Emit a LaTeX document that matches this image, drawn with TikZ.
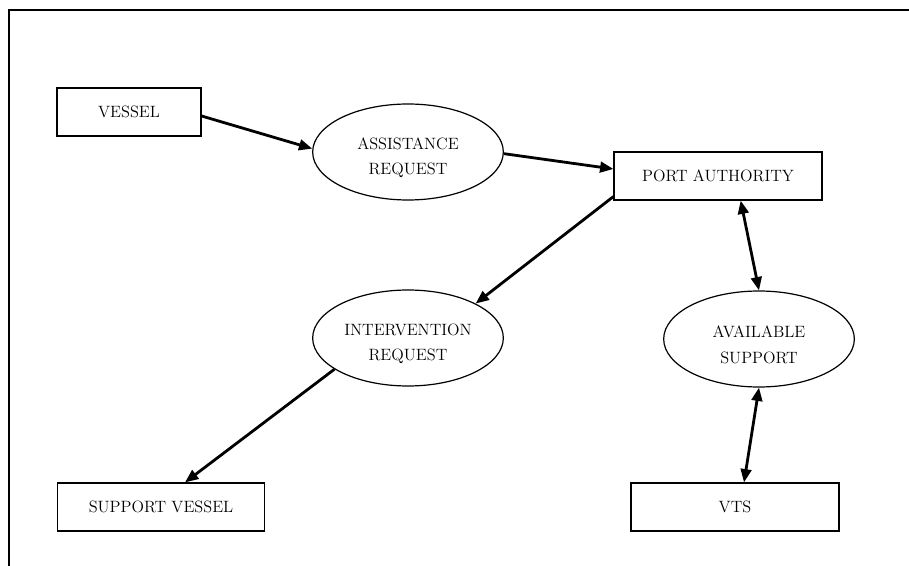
\documentclass[tikz,border=0pt]{standalone}
\usetikzlibrary{shapes.geometric,arrows.meta}
\newcommand{\toppad}{\rule{0pt}{17.5pt}}
\begin{document}
\begin{tikzpicture}[x=0.75pt,y=-0.75pt,
  txt/.style={font=\fontsize{12.3}{18.8}\selectfont, align=center},
  boxnode/.style={txt, draw, line width=0.9pt, inner sep=0pt, minimum height=36pt},
  ellnode/.style={txt, draw, ellipse, line width=0.9pt, inner sep=0pt, minimum width=143pt, minimum height=72pt},
  flow/.style={line width=2.1pt, -{Triangle[length=10pt,width=8pt]}},
  bflow/.style={line width=2.1pt, {Triangle[length=10pt,width=8pt]}-{Triangle[length=10pt,width=8pt]}}
]
\useasboundingbox (0,0) rectangle (909,566);
\draw[line width=1.5pt] (9,566) -- (9,10) -- (909,10);

\node[boxnode, minimum width=108pt] (vessel) at (129,112) {VESSEL};
\node[ellnode] (ar) at (408,152) {\toppad ASSISTANCE\\REQUEST};
\node[boxnode, minimum width=156pt] (pa) at (718,176) {PORT AUTHORITY};
\node[ellnode] (ir) at (408,338) {\toppad INTERVENTION\\REQUEST};
\node[ellnode] (as) at (759,339) {\toppad AVAILABLE\\SUPPORT};
\node[boxnode, minimum width=155pt] (sv) at (161,507) {SUPPORT VESSEL};
\node[boxnode, minimum width=156pt] (vts) at (735,507) {VTS};

\draw[flow] ([yshift=-3pt]vessel.east) -- (ar.178);
\draw[flow] (ar.-1) -- ([yshift=5.25pt]pa.west);
\draw[flow] ([yshift=3pt]pa.south west) -- (ir.27);
\draw[flow] (ir.203) -- ([xshift=18pt]sv.north);
\draw[bflow] ([xshift=17pt]pa.south) -- (as.north);
\draw[bflow] (as.south) -- ([xshift=6.75pt]vts.north);
\end{tikzpicture}
\end{document}
